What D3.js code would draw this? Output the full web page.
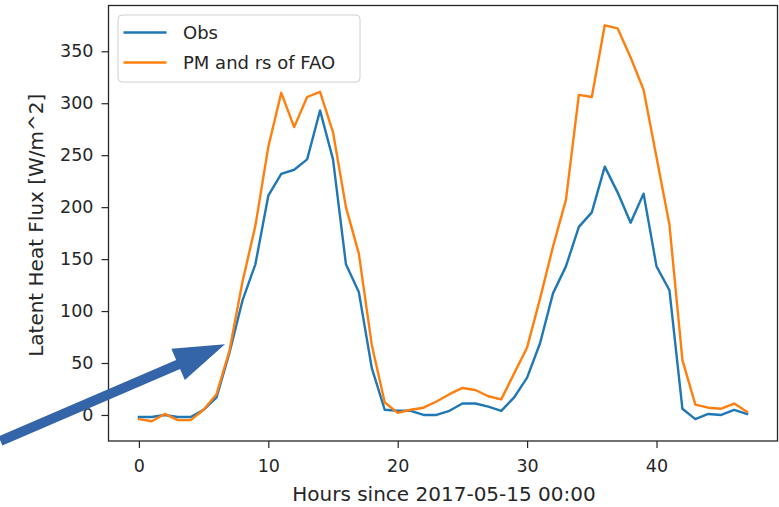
<!DOCTYPE html>
<html>
<head>
<meta charset="utf-8">
<script src="https://cdn.jsdelivr.net/npm/d3@7"></script>
<style>
  html, body { margin: 0; padding: 0; background: #fff; }
  svg { display: block; }
  text { font-family: "DejaVu Sans", sans-serif; fill: #262626; }
</style>
</head>
<body>
<script>
// Hourly latent heat flux, two days starting 2017-05-15 00:00
const hours = d3.range(0, 48);
const obs = [-2, -2, 0, -2, -2, 5, 17, 60, 110, 145, 211, 232, 236, 246, 293, 246,
             145, 118, 45, 5, 4, 4, 0, 0, 4, 11, 11, 8, 4, 17, 36, 69,
             117, 143, 181, 195, 239, 214, 185, 213, 143, 120, 6, -4, 1, 0, 5, 1];
const pmFao = [-4, -6, 1, -5, -5, 5, 20, 62, 128, 182, 258, 310, 277, 306, 311, 272,
               200, 155, 67, 12, 2, 5, 7, 13, 20, 26, 24, 18, 15, 40, 65, 112,
               162, 207, 308, 306, 375, 372, 344, 313, 248, 183, 53, 10, 7, 6, 11, 3];
const seriesNames = ["Obs", "PM and rs of FAO"];
const seriesColors = ["#1f77b4", "#ff7f0e"];
const xTicks = [0, 10, 20, 30, 40];
const yTicks = [0, 50, 100, 150, 200, 250, 300, 350];
const xLabel = "Hours since 2017-05-15 00:00";
const yLabel = "Latent Heat Flux [W/m^2]";
// annotation arrow: tip and tail in data units
const arrowTip = [6.65, 68];
const arrowTail = [-10.7, -25];

const W = 779, H = 507;
const plot = { left: 108.5, right: 777.5, top: 5.5, bottom: 441 };

const svg = d3.select("body").append("svg").attr("width", W).attr("height", H);

// axis limits with 5% padding around the data
const allY = obs.concat(pmFao);
const xMin = d3.min(hours), xMax = d3.max(hours);
const yMin = d3.min(allY), yMax = d3.max(allY);
const xPad = (xMax - xMin) * 0.05, yPad = (yMax - yMin) * 0.05;

const x = d3.scaleLinear().domain([xMin - xPad, xMax + xPad]).range([plot.left, plot.right]);
const y = d3.scaleLinear().domain([yMin - yPad, yMax + yPad]).range([plot.bottom, plot.top]);

// lines
const line = d3.line().x((d, i) => x(hours[i])).y(d => y(d));
[obs, pmFao].forEach((s, k) => {
  svg.append("path")
    .datum(s)
    .attr("d", line)
    .attr("fill", "none")
    .attr("stroke", seriesColors[k])
    .attr("stroke-width", 2.4)
    .attr("stroke-linejoin", "round")
    .attr("stroke-linecap", "square");
});

// axes
const xAxis = svg.append("g")
  .attr("transform", `translate(0,${plot.bottom})`)
  .call(d3.axisBottom(x).tickValues(xTicks).tickSize(7).tickPadding(12).tickFormat(d3.format("d")));
const yAxis = svg.append("g")
  .attr("transform", `translate(${plot.left},0)`)
  .call(d3.axisLeft(y).tickValues(yTicks).tickSize(7).tickPadding(8).tickFormat(d3.format("d")));
[xAxis, yAxis].forEach(g => {
  g.select(".domain").remove();
  g.selectAll(".tick line").attr("stroke", "#262626").attr("stroke-width", 1.2);
  g.selectAll(".tick text").attr("font-size", 17.5).attr("fill", "#262626")
    .style("font-family", "'DejaVu Sans', sans-serif");
});

// frame
svg.append("rect")
  .attr("x", plot.left).attr("y", plot.top)
  .attr("width", plot.right - plot.left).attr("height", plot.bottom - plot.top)
  .attr("fill", "none").attr("stroke", "#262626").attr("stroke-width", 1.3);

// axis titles
svg.append("text")
  .attr("x", (plot.left + plot.right) / 2 + 1).attr("y", 501)
  .attr("text-anchor", "middle").attr("font-size", 20)
  .text(xLabel);
svg.append("text")
  .attr("transform", `translate(43,${(plot.top + plot.bottom) / 2 + 2}) rotate(-90)`)
  .attr("text-anchor", "middle").attr("font-size", 20)
  .text(yLabel);

// legend
const leg = svg.append("g");
leg.append("rect")
  .attr("x", 118).attr("y", 15).attr("width", 242).attr("height", 67)
  .attr("rx", 4).attr("fill", "#fff").attr("fill-opacity", 0.8)
  .attr("stroke", "#d0d0d0").attr("stroke-width", 1);
seriesNames.forEach((name, k) => {
  const cy = 32.5 + k * 30;
  leg.append("line")
    .attr("x1", 123.5).attr("x2", 166.5).attr("y1", cy).attr("y2", cy)
    .attr("stroke", seriesColors[k]).attr("stroke-width", 2.4);
  leg.append("text")
    .attr("x", 183).attr("y", cy).attr("dy", "0.36em")
    .attr("font-size", 18).text(name);
});

// annotation arrow
const tip = [x(arrowTip[0]), y(arrowTip[1])];
const tail = [x(arrowTail[0]), y(arrowTail[1])];
const dx = tip[0] - tail[0], dy = tip[1] - tail[1];
const len = Math.hypot(dx, dy);
const ux = dx / len, uy = dy / len;      // along the arrow
const px = -uy, py = ux;                  // perpendicular
const headLen = 51, headHalf = 17, shaftHalf = 5;
const bx = tip[0] - ux * headLen, by = tip[1] - uy * headLen;
const pts = [
  [tail[0] + px * shaftHalf, tail[1] + py * shaftHalf],
  [bx + px * shaftHalf, by + py * shaftHalf],
  [bx + px * headHalf, by + py * headHalf],
  tip,
  [bx - px * headHalf, by - py * headHalf],
  [bx - px * shaftHalf, by - py * shaftHalf],
  [tail[0] - px * shaftHalf, tail[1] - py * shaftHalf]
];
svg.append("path")
  .attr("d", "M" + pts.map(p => p.join(",")).join("L") + "Z")
  .attr("fill", "#3465a8");
</script>
</body>
</html>
